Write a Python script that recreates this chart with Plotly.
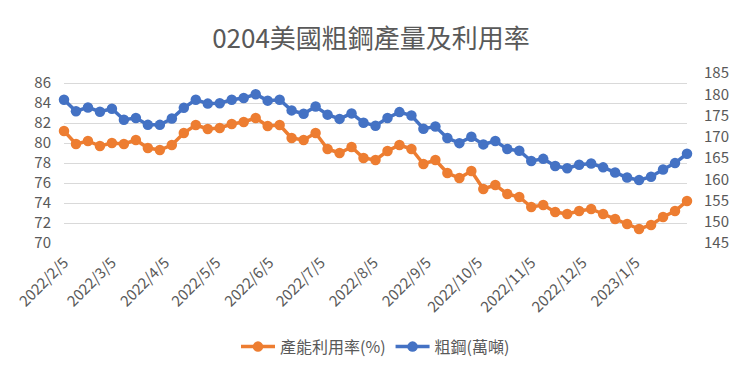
import pandas as pd
import plotly.graph_objects as go

title_text = "0204美國粗鋼產量及利用率"
series_names = ["產能利用率(%)", "粗鋼(萬噸)"]

dates = pd.date_range("2022-02-05", periods=53, freq="7D").strftime("%Y-%m-%d").tolist()

utilization = [81.2, 79.9, 80.2, 79.7, 80.0, 79.9, 80.3, 79.5, 79.3, 79.8,
               81.0, 81.8, 81.4, 81.5, 81.9, 82.1, 82.5, 81.7, 81.8, 80.5,
               80.3, 81.0, 79.4, 79.0, 79.6, 78.5, 78.3, 79.2, 79.8, 79.4,
               77.9, 78.3, 77.0, 76.5, 77.2, 75.4, 75.8, 74.9, 74.6, 73.6,
               73.8, 73.1, 72.9, 73.2, 73.4, 72.9, 72.4, 71.9, 71.4, 71.8,
               72.6, 73.2, 74.2]

crude_steel = [178.7, 176.0, 176.9, 175.9, 176.6, 174.0, 174.4, 172.8, 172.8, 174.3,
               176.8, 178.7, 177.8, 177.9, 178.7, 179.1, 180.0, 178.5, 178.7, 176.2,
               175.4, 177.1, 175.2, 174.2, 175.5, 173.3, 172.6, 174.4, 175.8, 175.0,
               171.9, 172.4, 169.7, 168.5, 170.0, 168.2, 169.0, 167.1, 166.7, 164.3,
               164.8, 163.1, 162.6, 163.4, 163.7, 162.8, 161.6, 160.4, 159.8, 160.6,
               162.3, 163.8, 166.0]

tick_dates = ["2022-02-05", "2022-03-05", "2022-04-05", "2022-05-05", "2022-06-05",
              "2022-07-05", "2022-08-05", "2022-09-05", "2022-10-05", "2022-11-05",
              "2022-12-05", "2023-01-05"]
tick_labels = ["2022/2/5", "2022/3/5", "2022/4/5", "2022/5/5", "2022/6/5",
               "2022/7/5", "2022/8/5", "2022/9/5", "2022/10/5", "2022/11/5",
               "2022/12/5", "2023/1/5"]

left_ticks = [70, 72, 74, 76, 78, 80, 82, 84, 86]
right_ticks = [145, 150, 155, 160, 165, 170, 175, 180, 185]

ORANGE = "#ED7D31"
BLUE = "#4472C4"
TEXT = "#595959"
FONT = "Noto Sans CJK TC, Open Sans, sans-serif"

# page body has an 8px margin; the figure is sized/offset to compensate
W, H = 735, 366

fig = go.Figure()
fig.add_trace(go.Scatter(
    x=dates, y=utilization, name=series_names[0], mode="lines+markers",
    line=dict(color=ORANGE, width=3.5), marker=dict(color=ORANGE, size=10.5),
    yaxis="y", cliponaxis=False))
fig.add_trace(go.Scatter(
    x=dates, y=crude_steel, name=series_names[1], mode="lines+markers",
    line=dict(color=BLUE, width=3.5), marker=dict(color=BLUE, size=10.5),
    yaxis="y2", cliponaxis=False))

fig.update_layout(
    width=W, height=H,
    margin=dict(l=56, r=56, t=65, b=131, autoexpand=False),
    paper_bgcolor="white", plot_bgcolor="white",
    font=dict(family=FONT, color=TEXT, size=15),
    title=dict(text=title_text, x=363 / W, xref="container", xanchor="center",
               y=1 - 31 / H, yref="container", yanchor="middle",
               font=dict(size=26, color=TEXT, family=FONT)),
    showlegend=True,
    legend=dict(orientation="h", x=0.5, xanchor="center", y=-0.61, yanchor="middle",
                font=dict(size=16, color=TEXT), itemwidth=34),
    xaxis=dict(type="date", range=[dates[0], dates[-1]], tickvals=tick_dates,
               ticktext=tick_labels, tickangle=-45, showgrid=False, zeroline=False,
               showline=False, automargin=False,
               tickfont=dict(size=15, color=TEXT), ticklabelstandoff=7),
    yaxis=dict(range=[70, 87], tickvals=left_ticks, gridcolor="#D9D9D9", gridwidth=1,
               zeroline=False, showline=False, automargin=False,
               tickfont=dict(size=15, color=TEXT), ticklabelstandoff=12),
    yaxis2=dict(range=[145, 185], tickvals=right_ticks, overlaying="y", side="right",
                showgrid=False, zeroline=False, showline=False, automargin=False,
                tickfont=dict(size=15, color=TEXT), ticklabelstandoff=16),
)

fig.write_html("out.html")
